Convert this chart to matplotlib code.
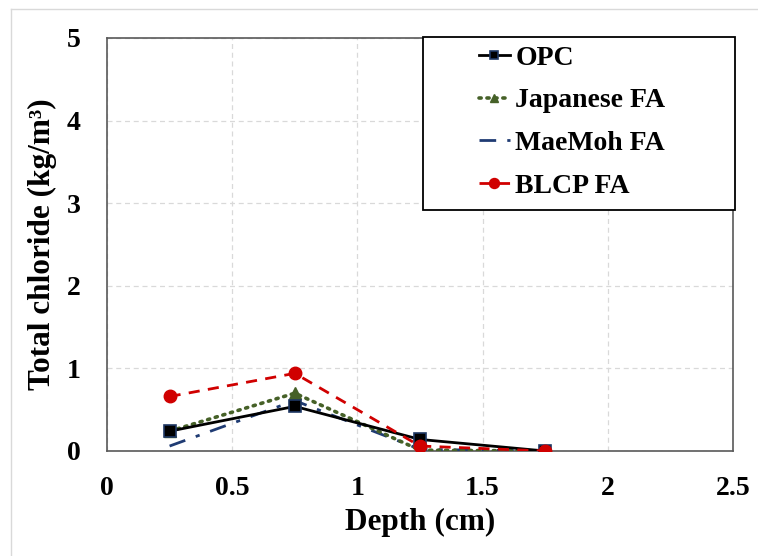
import matplotlib

matplotlib.use("Agg")
import matplotlib.pyplot as plt
from matplotlib.lines import Line2D
from matplotlib.patches import Rectangle

# Total chloride profile vs depth
DEPTH = [0.25, 0.75, 1.25, 1.75]
OPC = [0.24, 0.54, 0.14, 0.0]
JAPANESE_FA = [0.24, 0.70, 0.01, 0.0]
MAEMOH_FA = [0.06, 0.61, 0.02, 0.0]
BLCP_FA = [0.66, 0.94, 0.06, 0.0]

X_TICKS = [0, 0.5, 1, 1.5, 2, 2.5]
X_TICK_LABELS = ["0", "0.5", "1", "1.5", "2", "2.5"]
Y_TICKS = [0, 1, 2, 3, 4, 5]

plt.rcParams["font.family"] = ["Liberation Serif", "DejaVu Serif"]
plt.rcParams["font.weight"] = "bold"

fig = plt.figure(figsize=(7.58, 5.56), dpi=100)
ax = fig.add_axes([107 / 758, 1 - 451 / 556, 626 / 758, 413 / 556])

# faint outer frame (top and left edges only, as in the source)
fig.add_artist(Line2D([11 / 758, 1.0], [1 - 9 / 556, 1 - 9 / 556],
                      transform=fig.transFigure, color="#d9d9d9", lw=1))
fig.add_artist(Line2D([11 / 758, 11 / 758], [0.0, 1 - 9 / 556],
                      transform=fig.transFigure, color="#d9d9d9", lw=1))

ax.plot(DEPTH, OPC, color="black", lw=2, ls="-", marker="s", ms=8,
        mfc="black", mec="#1f3864", mew=1.2, label="OPC", zorder=5)
ax.plot(DEPTH, JAPANESE_FA, color="#466128", lw=2.6, ls=(0, (0.6, 1.6)),
        dash_capstyle="round", marker="^", ms=8, mfc="#466128",
        mec="#466128", label="Japanese FA", zorder=4)
ax.plot(DEPTH, MAEMOH_FA, color="#1f3b73", lw=2, ls=(0, (6, 4, 1.5, 4)),
        label="MaeMoh FA", zorder=3)
ax.plot(DEPTH, BLCP_FA, color="#d00000", lw=2, ls=(0, (4, 3)),
        marker="o", ms=9, mfc="#d00000", mec="#d00000",
        label="BLCP FA", zorder=6)

ax.set_xlim(0, 2.5)
ax.set_ylim(0, 5)
ax.set_xticks(X_TICKS)
ax.set_xticklabels(X_TICK_LABELS)
ax.set_yticks(Y_TICKS)
ax.tick_params(axis="both", length=0, labelsize=20)
ax.tick_params(axis="x", pad=18)
ax.tick_params(axis="y", pad=19)
ax.grid(True, color="#d9d9d9", ls=(0, (4, 3)), lw=0.9)
ax.set_axisbelow(True)
for sp in ax.spines.values():
    sp.set_color("#595959")
    sp.set_linewidth(1.2)

ax.set_xlabel("Depth (cm)", fontsize=22.5, fontweight="bold", labelpad=5)
ax.set_ylabel("Total chloride (kg/m³)", fontsize=22.5,
              fontweight="bold", labelpad=7)

# legend box drawn separately; the entries sit centred inside it
box = Rectangle((0.505, 0.584), 0.4985, 0.418, transform=ax.transAxes,
                facecolor="white", edgecolor="black", lw=1.3,
                clip_on=False, zorder=10)
ax.add_patch(box)
leg = ax.legend(loc="center",
                bbox_to_anchor=(0.505 + 0.4985 / 2 - 0.011, 0.584 + 0.418 / 2 + 0.004),
                frameon=False, fontsize=20, handlelength=1.1,
                handletextpad=0.2, labelspacing=0.62, borderpad=0,
                markerscale=0.8)
leg.set_zorder(11)

fig.savefig("out.png", dpi=100)
